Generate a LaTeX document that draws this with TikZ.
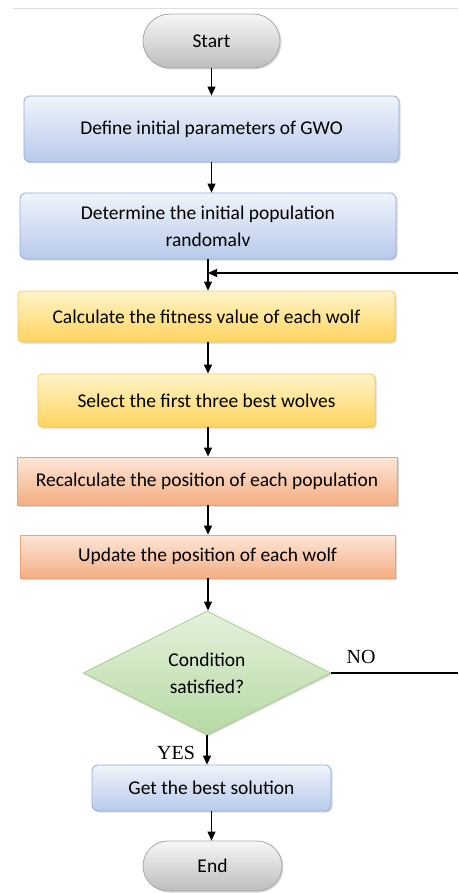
\documentclass[tikz,border=0pt]{standalone}
\usepackage{fontspec}
\setmainfont{Carlito}
\newfontfamily\labelfont{Liberation Serif}
\usetikzlibrary{shapes.geometric,shapes.misc,arrows.meta,shadows}

\definecolor{blueTop}{HTML}{F0F4FB}
\definecolor{blueBot}{HTML}{B8CAEA}
\definecolor{blueLine}{HTML}{93ACD8}
\definecolor{yelTop}{HTML}{FFF4C8}
\definecolor{yelBot}{HTML}{FFD45E}
\definecolor{yelLine}{HTML}{F2C85A}
\definecolor{orgTop}{HTML}{FDE6D8}
\definecolor{orgBot}{HTML}{F4AE82}
\definecolor{orgLine}{HTML}{E9A37C}
\definecolor{grnTop}{HTML}{E4F1DC}
\definecolor{grnBot}{HTML}{B6D9A3}
\definecolor{grnLine}{HTML}{A6CD92}
\definecolor{gryTop}{HTML}{F7F7F7}
\definecolor{gryBot}{HTML}{BDBDBD}
\definecolor{gryLine}{HTML}{A8A8A8}

\tikzset{
  boxbase/.style={draw, line width=0.8pt, inner sep=0pt, align=center,
    font=\fontsize{19.5}{27}\selectfont,
    drop shadow={opacity=0.3, shadow xshift=1.5pt, shadow yshift=-1.5pt}},
  bluebox/.style={boxbase, rectangle, rounded corners=6pt, draw=blueLine,
    top color=blueTop, bottom color=blueBot},
  yellowbox/.style={boxbase, rectangle, rounded corners=4pt, draw=yelLine,
    top color=yelTop, bottom color=yelBot},
  orangebox/.style={boxbase, rectangle, draw=orgLine,
    top color=orgTop, bottom color=orgBot},
  terminal/.style={boxbase, rounded rectangle, draw=gryLine,
    top color=gryTop, bottom color=gryBot},
  decision/.style={boxbase, diamond, draw=grnLine, aspect=2,
    top color=grnTop, bottom color=grnBot},
  arr/.style={line width=1.1pt, -{Triangle[length=9pt,width=8pt]}},
  plain/.style={line width=1.1pt},
  branchlabel/.style={font=\labelfont\fontsize{20}{22}\selectfont}
}

\begin{document}
\begin{tikzpicture}[x=1pt,y=-1pt]
\useasboundingbox (0,0) rectangle (458,893);

% thin rule across the top
\draw[draw=black!13, line width=0.8pt] (13,8) -- (458,8);

% process steps
\node[terminal, minimum width=137pt, minimum height=54pt] (start) at (211.5,41) {Start};
\node[bluebox, minimum width=375pt, minimum height=66pt] (define) at (211.5,129) {Define initial parameters of GWO};
\node[bluebox, minimum width=376pt, minimum height=66pt] (init) at (208,226) {Determine the initial population\\randomalv};
\node[yellowbox, minimum width=377pt, minimum height=51pt] (fitness) at (206.5,316.5) {Calculate the fitness value of each wolf};
\node[yellowbox, minimum width=337pt, minimum height=53pt] (select) at (206.5,400.5) {Select the first three best wolves};
\node[orangebox, minimum width=380pt, minimum height=48pt] (recalc) at (207,481) {Recalculate the position of each population};
\node[orangebox, minimum width=375pt, minimum height=43pt] (update) at (207.5,556.5) {Update the position of each wolf};
\node[decision, minimum width=248pt, minimum height=124pt] (cond) at (207,673) {Condition\\satisfied?};
\node[bluebox, minimum width=239pt, minimum height=46pt] (best) at (211.5,788) {Get the best solution};
\node[terminal, minimum width=139pt, minimum height=50pt] (end) at (212.5,866) {End};

% loop return points at the right edge
\coordinate (loopin) at (458,273);
\coordinate (noout) at (458,673);

% main flow
\draw[arr] (start.south) -- (start.south |- define.north);
\draw[arr] (define.south) -- (define.south |- init.north);
\draw[arr] (init.south) -- (init.south |- fitness.north);
\draw[arr] (fitness.south -| init.south) -- (init.south |- select.north);
\draw[arr] (select.south -| init.south) -- (init.south |- recalc.north);
\draw[arr] (recalc.south -| init.south) -- (init.south |- update.north);
\draw[arr] (update.south -| init.south) -- (init.south |- cond.north);
\draw[arr] (cond.south) -- (cond.south |- best.north);
\draw[arr] (best.south) -- (best.south |- end.north);

% loop back
\draw[plain] (cond.east) -- (noout);
\draw[arr] (loopin) -- (init.south |- loopin);

% branch labels
\node[branchlabel] (nolbl) at (361,657) {NO};
\node[branchlabel] (yeslbl) at (176,753) {YES};
\end{tikzpicture}
\end{document}
